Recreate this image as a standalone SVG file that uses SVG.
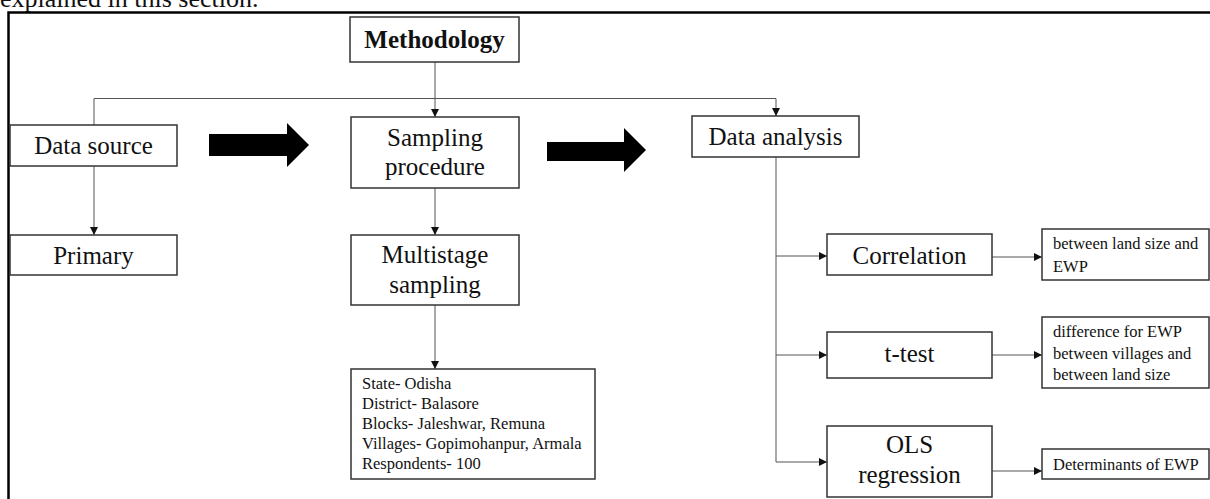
<svg xmlns="http://www.w3.org/2000/svg" width="1210" height="499" viewBox="0 0 1210 499">
<style>
.box{fill:#fff;stroke:#333;stroke-width:1.5}
.t{font-family:"Liberation Serif","Times New Roman",serif;fill:#111}
.big{font-size:25px;text-anchor:middle}
.sm{font-size:16.5px}
.con{fill:none;stroke:#555;stroke-width:1}
</style>
<defs>
<marker id="ah" viewBox="0 0 10 10" refX="10" refY="5" markerWidth="8" markerHeight="8" markerUnits="userSpaceOnUse" orient="auto">
<path d="M0,0 L10,5 L0,10 z" fill="#111"/>
</marker>
</defs>
<rect width="1210" height="499" fill="#fff"/>
<text class="t" x="0" y="7" font-size="26">explained in this section.</text>
<path d="M8.5,510 V12.5 H1215" fill="none" stroke="#000" stroke-width="2.5"/>
<g id="connectors">
<path class="con" d="M435,62 V117" marker-end="url(#ah)"/>
<path class="con" d="M94,125 V98.5 H776 V116" marker-end="url(#ah)"/>
<path class="con" d="M94,166 V235" marker-end="url(#ah)"/>
<path class="con" d="M435,188 V235" marker-end="url(#ah)"/>
<path class="con" d="M435,305 V369" marker-end="url(#ah)"/>
<path class="con" d="M776,157 V462 H827" marker-end="url(#ah)"/>
<path class="con" d="M776,256 H827" marker-end="url(#ah)"/>
<path class="con" d="M776,355 H827" marker-end="url(#ah)"/>
<path class="con" d="M992,257 H1042" marker-end="url(#ah)"/>
<path class="con" d="M992,355 H1042" marker-end="url(#ah)"/>
<path class="con" d="M992,471 H1042" marker-end="url(#ah)"/>
<path d="M209,134 H287 V123 L309,145 L287,167 V156 H209 z" fill="#000"/>
<path d="M547,142 H624 V128 L646,150 L624,172 V161 H547 z" fill="#000"/>
</g>
<g id="methodology">
<rect class="box" x="350" y="17" width="169" height="45"/>
<text class="t big" x="434.5" y="48" font-weight="bold">Methodology</text>
</g>
<g id="data-source">
<rect class="box" x="10" y="125" width="167" height="41"/>
<text class="t big" x="93.5" y="154">Data source</text>
</g>
<g id="primary">
<rect class="box" x="10" y="235" width="167" height="40"/>
<text class="t big" x="93.5" y="264">Primary</text>
</g>
<g id="sampling-procedure">
<rect class="box" x="351" y="117" width="168" height="71"/>
<text class="t big" x="435" y="146">Sampling</text>
<text class="t big" x="435" y="175">procedure</text>
</g>
<g id="multistage">
<rect class="box" x="351" y="235" width="168" height="70"/>
<text class="t big" x="435" y="263">Multistage</text>
<text class="t big" x="435" y="293">sampling</text>
</g>
<g id="sample-details">
<rect class="box" x="351" y="369" width="244" height="110"/>
<text class="t sm" x="362" y="389">State- Odisha</text>
<text class="t sm" x="362" y="409">District- Balasore</text>
<text class="t sm" x="362" y="429">Blocks- Jaleshwar, Remuna</text>
<text class="t sm" x="362" y="449">Villages- Gopimohanpur, Armala</text>
<text class="t sm" x="362" y="469">Respondents- 100</text>
</g>
<g id="data-analysis">
<rect class="box" x="692" y="116" width="167" height="41"/>
<text class="t big" x="775.5" y="145">Data analysis</text>
</g>
<g id="correlation">
<rect class="box" x="827" y="234" width="165" height="41"/>
<text class="t big" x="909.5" y="264">Correlation</text>
</g>
<g id="t-test">
<rect class="box" x="827" y="332" width="165" height="46"/>
<text class="t big" x="909.5" y="362">t-test</text>
</g>
<g id="ols">
<rect class="box" x="827" y="426" width="165" height="71"/>
<text class="t big" x="909.5" y="453">OLS</text>
<text class="t big" x="909.5" y="483">regression</text>
</g>
<g id="correlation-note">
<rect class="box" x="1042" y="229" width="167" height="51"/>
<text class="t sm" x="1053" y="249">between land size and</text>
<text class="t sm" x="1053" y="272">EWP</text>
</g>
<g id="ttest-note">
<rect class="box" x="1042" y="317" width="167" height="71"/>
<text class="t sm" x="1053" y="337">difference for EWP</text>
<text class="t sm" x="1053" y="359">between villages and</text>
<text class="t sm" x="1053" y="380">between land size</text>
</g>
<g id="ols-note">
<rect class="box" x="1042" y="449" width="167" height="30"/>
<text class="t sm" x="1053" y="470">Determinants of EWP</text>
</g>
</svg>
